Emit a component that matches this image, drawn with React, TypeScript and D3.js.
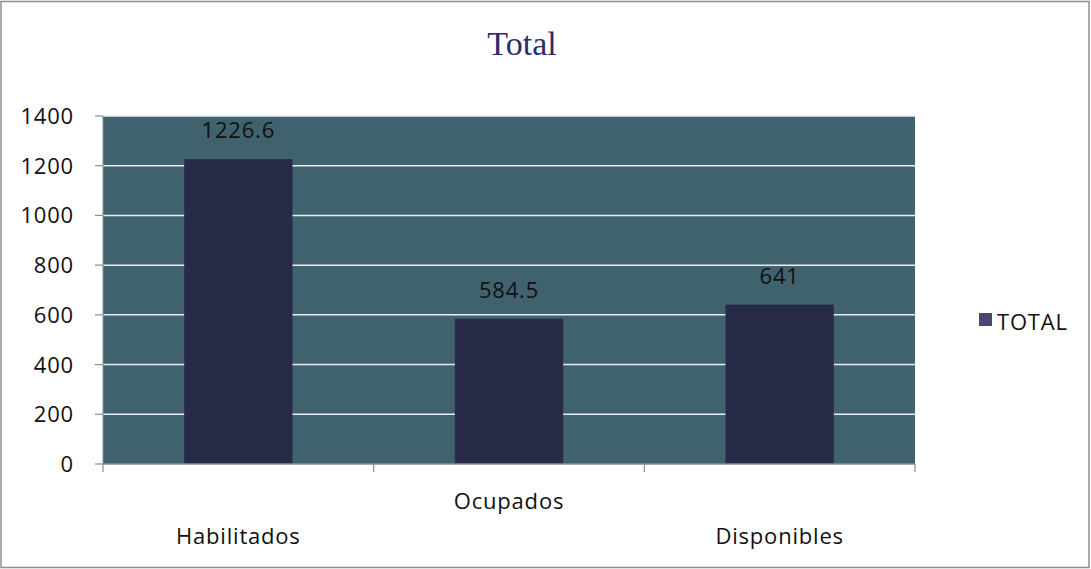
import React from "react";
import * as d3 from "d3";

const categories = ["Habilitados", "Ocupados", "Disponibles"];
const values = [1226.6, 584.5, 641];
const valueLabels = ["1226.6", "584.5", "641"];
const yTicks = [0, 200, 400, 600, 800, 1000, 1200, 1400];
const seriesName = "TOTAL";
const title = "Total";

const W = 1091;
const H = 569;
const plot = { left: 103, right: 915, top: 116, bottom: 464 };
const font = "'Open Sans', Lato, sans-serif";
const fs = 22;
const ls = 0.8;

export default function App() {
  const x = d3
    .scaleBand<string>()
    .domain(categories)
    .range([plot.left, plot.right])
    .paddingInner(0.6)
    .paddingOuter(0.3);
  const band = d3.scaleBand<string>().domain(categories).range([plot.left, plot.right]);
  const y = d3.scaleLinear().domain([0, 1400]).range([plot.bottom, plot.top]);

  const boundaries = [plot.left, ...categories.map((c) => (band(c) as number) + band.bandwidth())];

  return (
    <div style={{ position: "absolute", left: 0, top: 0 }}>
      <svg width={W} height={H} style={{ display: "block" }}>
        <rect x={0} y={0} width={W} height={H} fill="#fff" />
        <rect x={1} y={1.5} width={W - 3} height={H - 3} fill="none" stroke="#8f8f8f" strokeWidth={1.5} />
        <text x={522} y={55} textAnchor="middle" fontFamily="'Liberation Serif', serif" fontSize={34} fill="#2b2c6a">
          {title}
        </text>
        <rect x={plot.left} y={plot.top} width={plot.right - plot.left} height={plot.bottom - plot.top} fill="#40626f" />
        {yTicks.map((t) =>
          t === 0 ? null : (
            <line key={"g" + t} x1={plot.left} x2={plot.right} y1={y(t)} y2={y(t)} stroke="#e8ecee" strokeWidth={1.5} />
          )
        )}
        {categories.map((c, i) => (
          <rect key={c} x={x(c)} y={y(values[i])} width={x.bandwidth()} height={plot.bottom - y(values[i])} fill="#282b48" />
        ))}
        {/* y axis */}
        <line x1={plot.left} x2={plot.left} y1={plot.top} y2={plot.bottom} stroke="#8c8c8c" strokeWidth={1} />
        {yTicks.map((t) => (
          <g key={"t" + t}>
            <line x1={plot.left - 8} x2={plot.left} y1={y(t)} y2={y(t)} stroke="#8c8c8c" strokeWidth={1.2} />
            <text x={74} y={y(t) + 8} textAnchor="end" fontFamily={font} fontSize={fs} letterSpacing={ls} fill="#111">
              {t}
            </text>
          </g>
        ))}
        {/* x axis */}
        <line x1={plot.left} x2={plot.right} y1={plot.bottom} y2={plot.bottom} stroke="#8c8c8c" strokeWidth={1.5} />
        {boundaries.map((bx, i) => (
          <line key={"xt" + i} x1={bx} x2={bx} y1={plot.bottom} y2={plot.bottom + 8} stroke="#8c8c8c" strokeWidth={1.2} />
        ))}
        {categories.map((c, i) => (
          <text key={"xl" + c} x={(band(c) as number) + band.bandwidth() / 2} y={i % 2 === 1 ? 509 : 544} textAnchor="middle" fontFamily={font} fontSize={fs} letterSpacing={ls} fill="#111">
            {c}
          </text>
        ))}
        {categories.map((c, i) => (
          <text key={"vl" + c} x={(x(c) as number) + x.bandwidth() / 2} y={y(values[i]) - 21} textAnchor="middle" fontFamily={font} fontSize={fs} letterSpacing={ls} fill="#111">
            {valueLabels[i]}
          </text>
        ))}
        {/* legend */}
        <rect x={979} y={313} width={13} height={13} fill="#4a4870" />
        <text x={997} y={330} fontFamily={font} fontSize={fs} letterSpacing={ls} fill="#111">
          {seriesName}
        </text>
      </svg>
    </div>
  );
}
